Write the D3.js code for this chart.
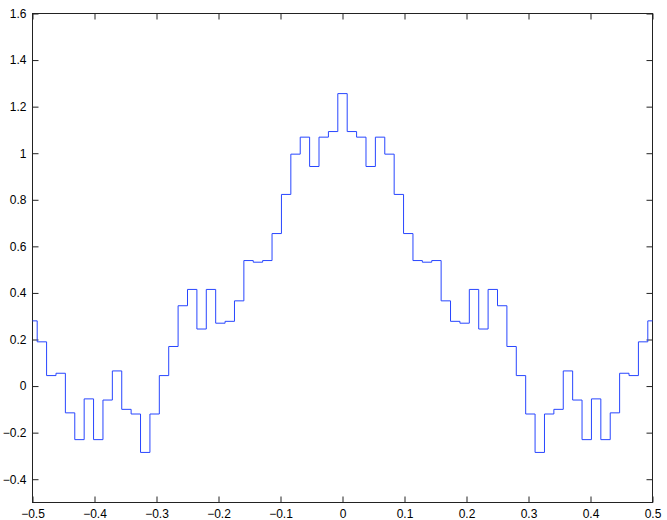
<!DOCTYPE html>
<html>
<head>
<meta charset="utf-8">
<script src="https://cdn.jsdelivr.net/npm/d3@7"></script>
<style>
  body { margin: 0; background: #fff; }
  .axis text { font-family: "Liberation Sans", Arial, Helvetica, sans-serif; font-size: 12px; fill: #000; }
  .axis path { display: none; }
  .axis line { stroke: #222; }
</style>
</head>
<body>
<svg width="667" height="520"></svg>
<script>
// sample grid: 67 points from -0.5 to 0.5
var xStart = -0.5, xEnd = 0.5, nSamples = 67;

// step levels, left to right
var levels = [
  0.28, 0.19, 0.045, 0.055, -0.115, -0.23, -0.055, -0.23, -0.06, 0.065,
  -0.10, -0.12, -0.285, -0.12, 0.045, 0.17, 0.345, 0.415, 0.245, 0.415,
  0.27, 0.278, 0.366, 0.539, 0.532, 0.539, 0.655, 0.823, 0.996, 1.069,
  0.943, 1.069, 1.093, 1.256,
  1.093, 1.069, 0.943, 1.069, 0.996, 0.823, 0.655, 0.539, 0.532, 0.539,
  0.366, 0.278, 0.27, 0.415, 0.245, 0.415, 0.345, 0.17, 0.045, -0.12,
  -0.285, -0.12, -0.10, 0.065, -0.06, -0.23, -0.055, -0.23, -0.115, 0.055,
  0.045, 0.19, 0.28
];

var xTicks = [-0.5, -0.4, -0.3, -0.2, -0.1, 0, 0.1, 0.2, 0.3, 0.4, 0.5];
var yTicks = [-0.4, -0.2, 0, 0.2, 0.4, 0.6, 0.8, 1, 1.2, 1.4, 1.6];
var yDomain = [-0.5, 1.6];

var svg = d3.select("svg"),
    plotLeft = 32.5, plotRight = 652.5, plotTop = 13.5, plotBottom = 502.5;

var x = d3.scaleLinear().domain([xStart, xEnd]).range([plotLeft, plotRight]);
var y = d3.scaleLinear().domain(yDomain).range([plotBottom, plotTop]);

var xs = d3.range(nSamples).map(function(i) { return xStart + i * (xEnd - xStart) / (nSamples - 1); });
var data = levels.map(function(v, i) { return {x: xs[i], y: v}; });

function fmt(d) {
  var s = d3.format("~g")(Math.abs(d));
  return (d < 0 ? "\u2212" : "") + s;
}

// bottom axis with labels, ticks pointing inward
svg.append("g")
    .attr("class", "axis")
    .attr("transform", "translate(0," + plotBottom + ")")
    .call(d3.axisBottom(x).tickValues(xTicks).tickFormat(fmt).tickSizeInner(-6).tickSizeOuter(0).tickPadding(7));

svg.append("g")
    .attr("class", "axis")
    .attr("transform", "translate(0," + plotTop + ")")
    .call(d3.axisTop(x).tickValues(xTicks).tickFormat("").tickSizeInner(-6).tickSizeOuter(0));

svg.append("g")
    .attr("class", "axis")
    .attr("transform", "translate(" + plotLeft + ",0)")
    .call(d3.axisLeft(y).tickValues(yTicks).tickFormat(fmt).tickSizeInner(-6).tickSizeOuter(0).tickPadding(6));

svg.append("g")
    .attr("class", "axis")
    .attr("transform", "translate(" + plotRight + ",0)")
    .call(d3.axisRight(y).tickValues(yTicks).tickFormat("").tickSizeInner(-6).tickSizeOuter(0));

// box
svg.append("rect")
    .attr("x", plotLeft)
    .attr("y", plotTop)
    .attr("width", plotRight - plotLeft)
    .attr("height", plotBottom - plotTop)
    .attr("fill", "none")
    .attr("stroke", "#222");

// stairs line
var line = d3.line()
    .x(function(d) { return x(d.x); })
    .y(function(d) { return y(d.y); })
    .curve(d3.curveStep);

svg.append("path")
    .datum(data)
    .attr("fill", "none")
    .attr("stroke", "#2846ff")
    .attr("stroke-width", 1)
    .attr("d", line);
</script>
</body>
</html>
